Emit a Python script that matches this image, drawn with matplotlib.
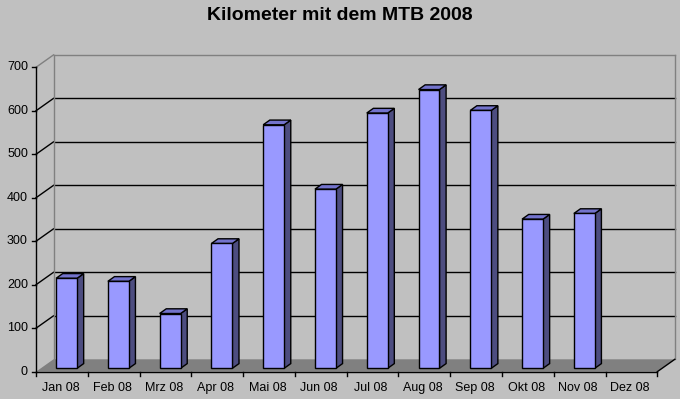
import numpy as np
import matplotlib
matplotlib.use("Agg")
import matplotlib.pyplot as plt
from matplotlib.patches import Polygon
from matplotlib.transforms import ScaledTranslation, IdentityTransform

months = ['Jan 08', 'Feb 08', 'Mrz 08', 'Apr 08', 'Mai 08', 'Jun 08',
          'Jul 08', 'Aug 08', 'Sep 08', 'Okt 08', 'Nov 08', 'Dez 08']
km = [207, 200, 126, 287, 560, 412, 587, 641, 593, 343, 356, 0]
yticks = [0, 100, 200, 300, 400, 500, 600, 700]

bg = '#c0c0c0'
fig = plt.figure(figsize=(6.8, 3.99), dpi=100, facecolor=bg)
ax = fig.add_axes([36 / 680, (399 - 371.7) / 399, 621.3 / 680, 304.4 / 399])
ax.set_xlim(0, 12)
ax.set_ylim(0, 700)
ax.axis('off')
px = IdentityTransform()

# 3d depth offsets (inches, 100 dpi)
def shifted(dx, dy):
    return ax.transData + ScaledTranslation(dx / 100, dy / 100, fig.dpi_scale_trans)

front = ax.transData
back = shifted(17.5, 12.4)
bar_front = shifted(4.7, 3.4)
bar_back = shifted(4.7 + 6.6, 3.4 + 4.7)

def poly(pts, **kw):
    ax.add_patch(Polygon(pts, closed=True, transform=px, clip_on=False, **kw))

def pts(trans, xy):
    return trans.transform(np.array(xy, dtype=float))

def line(p, **kw):
    ax.plot(p[:, 0], p[:, 1], transform=px, clip_on=False, **kw)

# floor
f0 = pts(front, [(0, 0), (12, 0)])
b0 = pts(back, [(12, 0), (0, 0)])
poly(np.vstack([f0, b0]), facecolor='#808080', edgecolor='none', zorder=1)

# gridlines on back wall and left wall
for v in yticks[1:]:
    col = '#808080' if v == 700 else 'black'
    bl = pts(back, [(0, v), (12, v)])
    fl = pts(front, [(0, v)])
    line(bl, color=col, lw=1, zorder=2)
    line(np.vstack([fl, bl[:1]]), color=col, lw=1, zorder=2)

# wall edges
for xe in (0, 12):
    line(pts(back, [(xe, 0), (xe, 700)]), color='#808080', lw=1, zorder=2)

# bars
x = np.arange(12) + 0.5
w = 0.405
for xi, v in zip(x, km):
    if v <= 0:
        continue
    l, r = xi - w / 2, xi + w / 2
    side = np.vstack([pts(bar_front, [(r, 0), (r, v)]), pts(bar_back, [(r, v), (r, 0)])])
    poly(side, facecolor='#4d4d80', edgecolor='black', lw=1, zorder=3)
    top = np.vstack([pts(bar_front, [(l, v), (r, v)]), pts(bar_back, [(r, v), (l, v)])])
    poly(top, facecolor='#7373cc', edgecolor='black', lw=1, zorder=3)
edges = ['black' if v > 0 else 'none' for v in km]
ax.bar(x, km, width=w, color='#9999ff', edgecolor=edges, linewidth=1,
       transform=bar_front, zorder=4, clip_on=False)

# front axes
ax.plot([0, 0], [0, 700], color='black', lw=1, clip_on=False, zorder=5)
ax.plot([0, 12], [0, 0], color='black', lw=1, clip_on=False, zorder=5)
line(np.vstack([pts(front, [(12, 0)]), pts(back, [(12, 0)])]), color='black', lw=1, zorder=5)

yt = ax.get_yaxis_transform()
for v in yticks:
    ax.plot([-0.006, 0], [v, v], color='black', lw=1, transform=yt, clip_on=False)
    ax.text(-0.013, v, str(v), transform=yt, ha='right', va='center',
            fontsize=9, family='Liberation Sans')
xt = ax.get_xaxis_transform()
for i in range(13):
    ax.plot([i, i], [0, -0.014], color='black', lw=1, transform=xt, clip_on=False)
for xi, m in zip(x, months):
    ax.text(xi - 0.03, -0.035, m, transform=xt, ha='center', va='top',
            fontsize=9, family='Liberation Sans')

fig.text(0.5, 1 - 15 / 399, 'Kilometer mit dem MTB 2008', ha='center', va='center',
         fontsize=14, fontweight='bold', family=['Liberation Sans Narrow', 'Liberation Sans'])

fig.savefig('out.png', dpi=100, facecolor=bg)
